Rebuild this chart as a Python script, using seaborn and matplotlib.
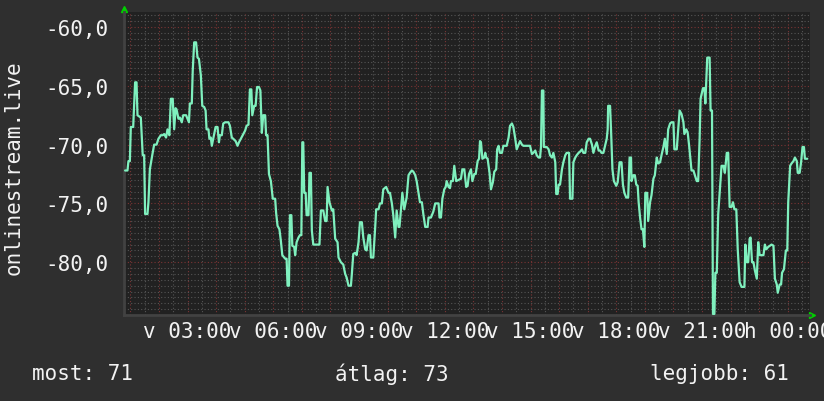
import numpy as np
import seaborn as sns
import matplotlib
matplotlib.use("Agg")
import matplotlib.pyplot as plt

# signal level readings, minutes since Sunday 00:00
minutes = [
    49, 54, 56, 59, 61, 66, 70, 73, 75, 82, 86, 89, 91, 96, 98, 101, 106, 110, 115, 119,
    124, 128, 131, 135, 138, 142, 145, 149, 152, 155, 157, 161, 164, 168, 171, 177, 180, 183, 185, 189,
    191, 194, 198, 201, 204, 208, 211, 215, 218, 220, 224, 226, 229, 231, 234, 239, 243, 246,
    248, 252, 255, 259, 266, 269, 273, 276, 281, 285, 288, 292, 297, 301, 304, 308, 311, 314, 316, 320,
    323, 326, 330, 333, 336, 339, 343, 345, 348, 351, 355, 359, 364, 366, 369, 373, 376, 379, 385, 388,
    390, 393, 395, 398, 400, 404, 406, 409, 413, 416, 419, 421, 423, 425, 428, 430, 434, 436, 439,
    441, 444, 457, 460, 465, 469, 472, 474, 478, 483, 486, 490, 495, 497, 502, 507, 511, 514, 518, 523,
    525, 528, 532, 535, 539, 542, 546, 549, 553, 556, 560, 563, 565, 570, 574, 576, 581, 584, 588, 591,
    597, 602, 605, 609, 612, 616, 619, 623, 625, 628, 631, 635,
    640, 644, 647, 651, 654, 658, 661, 665, 668, 672, 675, 679, 684, 686, 691, 696, 700, 707, 709, 712,
    715, 719, 722, 724, 728, 731, 733, 737, 740, 744, 754, 757, 761, 765, 768, 771, 775, 778, 782, 785,
    789, 792, 794, 796, 799, 803, 805, 807, 810, 814, 817, 821, 824, 828, 830, 833, 836, 840, 843,
    850, 854, 857, 861, 864, 868, 871, 875, 878, 882, 885, 896, 899, 903, 906, 910, 913, 917, 920, 922,
    924, 927, 928, 934, 938, 941, 945, 948, 952, 954, 957, 959, 962, 966, 969, 973, 976, 981, 983, 988,
    990, 994, 997, 1001, 1004, 1008, 1011, 1015, 1018, 1022, 1025, 1029, 1032, 1036, 1039, 1043,
    1046, 1049, 1053, 1056, 1060, 1062, 1063, 1067, 1069, 1072, 1075, 1080, 1083, 1087, 1091, 1094, 1097, 1101, 1105, 1108,
    1111, 1112, 1116, 1119, 1122, 1125, 1127, 1130, 1133, 1136, 1139, 1141, 1145, 1147, 1151, 1154, 1158, 1161, 1165, 1168,
    1172, 1175, 1179, 1182, 1186, 1189, 1193, 1196, 1200, 1202, 1207, 1210, 1213, 1217, 1221, 1223, 1227, 1230, 1233,
    1238, 1242, 1245, 1249, 1252, 1255, 1257, 1262, 1265, 1267, 1271, 1276, 1278, 1281, 1283, 1286, 1288, 1291, 1294, 1298,
    1301, 1305, 1308, 1312, 1315, 1318, 1322, 1325, 1328, 1332, 1335, 1339, 1343, 1349, 1351, 1354, 1357, 1360, 1362, 1365,
    1368, 1371, 1375, 1378, 1381, 1389, 1392, 1395, 1399, 1406, 1410, 1413, 1417, 1419, 1423, 1426, 1428, 1432, 1436, 1439,
    1441, 1445, 1448, 1452, 1455, 1459, 1461, 1465, 1468, 1471, 1474, 1476, 1481,
]
level = [
    -72.2, -72.2, -71.4, -71.4, -68.5, -68.5, -64.7, -64.7, -67.5, -67.7, -70.9, -70.9, -75.9, -75.9, -74.9, -72.1, -70.9, -70.0, -70.0, -69.5,
    -69.2, -69.2, -69.1, -69.4, -68.7, -69.2, -66.1, -66.1, -68.7, -66.9, -67.0, -67.8, -67.7, -68.1, -67.5, -67.5, -67.8, -68.1, -66.5, -66.5,
    -63.7, -61.3, -61.3, -62.6, -62.7, -64.1, -66.7, -66.8, -67.1, -68.7, -68.7, -69.5, -69.4, -70.1, -69.5, -68.5, -68.5, -69.8,
    -69.2, -69.2, -68.2, -68.1, -68.1, -68.4, -69.4, -69.5, -69.7, -70.1, -69.8, -69.5, -69.1, -68.8, -68.4, -68.3, -65.3, -65.3, -67.5, -66.7,
    -66.7, -65.1, -65.1, -65.4, -69.0, -67.5, -67.5, -69.2, -69.2, -72.5, -73.1, -74.6, -74.6, -75.8, -76.9, -77.2, -78.2, -79.4, -79.7, -79.7,
    -82.0, -82.0, -76.0, -76.0, -78.6, -78.7, -79.4, -78.3, -77.9, -77.7, -77.7, -69.8, -69.8, -74.1, -74.1, -76.0, -76.0, -72.4, -72.4,
    -77.3, -78.5, -78.5, -75.6, -75.6, -76.5, -76.5, -73.6, -74.9, -75.6, -75.5, -78.0, -78.3, -79.6, -80.0, -80.2, -81.0, -81.3, -82.0, -82.0,
    -81.0, -79.3, -79.2, -79.4, -78.3, -76.6, -76.6, -77.9, -78.9, -79.0, -77.7, -77.7, -79.6, -79.6, -77.0, -75.5, -75.5, -75.0, -75.0, -73.8,
    -73.6, -74.1, -74.1, -75.0, -76.0, -77.9, -75.6, -77.0, -77.0, -75.6, -74.1, -75.5,
    -74.5, -72.6, -72.4, -72.2, -72.3, -72.6, -73.1, -74.1, -74.9, -74.9, -75.9, -77.0, -77.0, -76.2, -76.2, -75.7, -75.0, -75.0, -76.2, -76.2,
    -74.6, -73.8, -73.6, -73.1, -73.6, -73.7, -73.1, -73.1, -71.8, -73.1, -72.9, -72.1, -72.1, -73.6, -73.5, -72.5, -72.1, -73.1, -72.5, -72.5,
    -71.4, -71.2, -69.7, -69.8, -71.2, -71.1, -70.7, -71.1, -71.2, -72.4, -73.8, -73.2, -72.3, -72.1, -70.4, -70.1, -70.7, -70.7, -70.1,
    -70.1, -69.4, -68.4, -68.2, -68.5, -69.5, -70.4, -70.0, -69.7, -70.0, -70.1, -70.1, -70.1, -70.8, -70.7, -70.5, -70.9, -71.1, -71.1, -70.2,
    -65.4, -65.4, -70.2, -70.2, -70.4, -70.9, -71.1, -70.7, -71.5, -74.2, -74.2, -73.4, -73.4, -72.1, -71.5, -70.9, -70.7, -70.7, -74.6, -74.6,
    -71.5, -71.1, -70.9, -70.7, -70.6, -70.4, -70.7, -70.7, -69.8, -69.5, -69.5, -70.0, -70.7, -70.1, -69.8, -70.5,
    -70.5, -70.7, -70.7, -70.2, -69.5, -68.7, -66.7, -66.7, -68.7, -72.1, -73.1, -73.5, -73.2, -71.5, -71.5, -73.4, -74.1, -74.5, -74.5, -71.1,
    -71.1, -73.1, -72.6, -72.6, -73.4, -73.5, -74.9, -76.2, -77.2, -77.2, -78.7, -74.1, -74.1, -76.5, -74.9, -74.3, -72.9, -72.6, -71.1, -71.6,
    -71.5, -70.9, -70.2, -69.5, -70.8, -68.7, -68.2, -68.1, -68.1, -70.4, -70.4, -68.8, -67.1, -67.4, -68.1, -69.1, -68.7, -69.0, -70.1,
    -72.2, -72.2, -72.6, -73.1, -73.1, -69.5, -66.1, -65.2, -65.2, -66.5, -62.6, -62.6, -67.1, -67.1, -84.4, -84.4, -80.9, -80.9, -75.9, -73.5,
    -71.8, -71.8, -72.4, -70.7, -70.7, -75.3, -75.3, -74.9, -75.5, -75.5, -78.9, -81.7, -82.1, -82.1, -78.5, -80.0, -80.0, -78.0, -77.9, -80.0,
    -80.0, -80.7, -81.4, -78.3, -79.4, -79.4, -78.5, -78.9, -78.7, -78.5, -78.6, -81.4, -81.9, -82.6, -81.9, -81.9, -80.9, -80.6, -79.0, -79.0,
    -74.9, -71.8, -71.6, -71.4, -71.1, -71.4, -72.4, -72.4, -71.5, -70.2, -70.2, -71.2, -71.2,
]

tick_hours = [3, 6, 9, 12, 15, 18, 21, 24]
tick_labels = ["v 03:00", "v 06:00", "v 09:00", "v 12:00", "v 15:00", "v 18:00", "v 21:00", "h 00:00"]
y_ticks = [-80, -75, -70, -65, -60]
legend_items = ["most: 71", "átlag: 73", "legjobb: 61"]
series_name = "onlinestream.live"

fig_bg = "#2f2f2f"
plot_bg = "#212121"
text_col = "#f2f2f2"
line_col = "#7ff0be"

sns.set_style("dark")
plt.rcParams["font.family"] = ["DejaVu Sans Mono"]

fig = plt.figure(figsize=(8.24, 4.02), dpi=100, facecolor=fig_bg)
ax = fig.add_axes([124 / 824, 86 / 402, 686 / 824, 303 / 402])
ax.set_facecolor(plot_bg)

hours = np.array(minutes) / 60.0
sns.lineplot(x=hours, y=level, ax=ax, color=line_col, linewidth=1.6,
             estimator=None, sort=False, zorder=3)

ax.set_xlim(46.7 / 60, 1486.7 / 60)
ax.set_ylim(-84.49, -58.72)

# grid: hour / 5 dB in red, half-steps in grey
major_x = np.arange(1, 25)
ax.set_xticks(major_x)
ax.set_xticklabels([tick_labels[tick_hours.index(h)] if h in tick_hours else "" for h in major_x])
ax.set_xticks(np.arange(1.5, 25, 1.0), minor=True)
ax.set_yticks(y_ticks)
ax.set_yticklabels([f"{v:.1f}".replace(".", ",") for v in y_ticks])
ax.set_yticks([v for v in np.arange(-84, -58.5, 0.5) if v % 5 != 0], minor=True)

ax.grid(which="major", color="#7a3434", linestyle=(0, (1, 2)), linewidth=0.8, zorder=1)
ax.grid(which="minor", color="#555555", linestyle=(0, (1, 2)), linewidth=0.8, zorder=1)
ax.set_axisbelow(True)

ax.tick_params(axis="both", which="both", length=0, colors=text_col, labelsize=15)
ax.tick_params(axis="x", pad=4)
ax.tick_params(axis="y", pad=11)

for side in ["top", "right"]:
    ax.spines[side].set_visible(False)
for side in ["left", "bottom"]:
    ax.spines[side].set_color("#424242")
    ax.spines[side].set_linewidth(2)

ax.set_xlabel("")
ax.set_ylabel("")

# little green arrow heads at axis ends
ax.plot([0], [1.01], marker="^", color="#00d000", markersize=4, transform=ax.transAxes, clip_on=False)
ax.plot([1.003], [0], marker=">", color="#00d000", markersize=4, transform=ax.transAxes, clip_on=False)

fig.text(14 / 824, 1 - 168 / 402, series_name, rotation=90, ha="center", va="center",
         color=text_col, fontsize=15)

for txt, xpos in zip(legend_items, [32, 335, 650]):
    fig.text(xpos / 824, 1 - 374 / 402, txt, ha="left", va="center", color=text_col, fontsize=15)

fig.savefig("out.png", dpi=100, facecolor=fig_bg)
